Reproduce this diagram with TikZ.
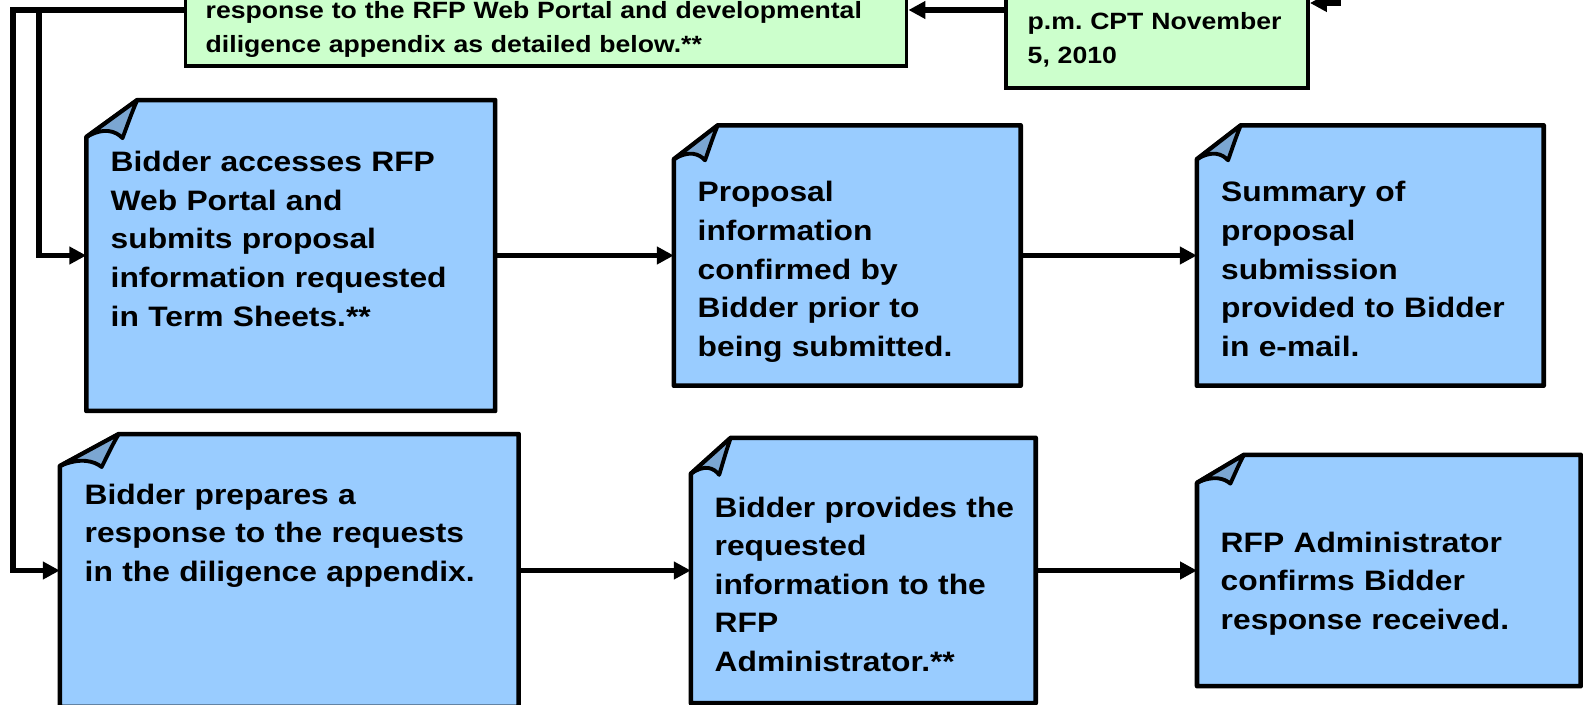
\documentclass[tikz,border=0pt]{standalone}
\usepackage{fontspec}
\setmainfont{Liberation Sans}[FakeStretch=1.13]
\usetikzlibrary{arrows.meta}
\frenchspacing

\definecolor{sheetblue}{RGB}{153,204,255}
\definecolor{flapblue}{RGB}{123,166,210}
\definecolor{notegreen}{RGB}{204,255,204}

\begin{document}
\begin{tikzpicture}[
        sheet/.style 2 args={rectangle, inner sep=0pt,
            append after command={\pgfextra{
                \filldraw[line width=1.3pt, line join=round, fill=sheetblue]
                    ([yshift=-#2cm]\tikzlastnode.north west) -- (\tikzlastnode.south west)
                    -- (\tikzlastnode.south east) -- (\tikzlastnode.north east)
                    -- ([xshift=#1cm]\tikzlastnode.north west) -- cycle;
                \filldraw[line width=1.1pt, line join=round, fill=flapblue, shift={(\tikzlastnode.north west)}]
                    (#1,0) -- (0,-#2) .. controls (0.35*#1,-0.72*#2) and (0.58*#1,-0.84*#2) .. (0.71*#1,-1.03*#2)
                    .. controls (0.8*#1,-0.7*#2) and (0.9*#1,-0.3*#2) .. (#1,0) -- cycle;
            }}},
        note/.style={rectangle, draw, fill=notegreen, line width=1.1pt, inner sep=0pt},
        sheettext/.style={anchor=base west, align=left, inner sep=0pt, text width=4.3cm,
            font=\bfseries\fontsize{8pt}{11pt}\selectfont},
        notetext/.style={anchor=base west, align=left, inner sep=0pt, text width=7cm,
            font=\bfseries\fontsize{6.7pt}{9.4pt}\selectfont},
        flow/.style={->, >={Triangle[length=1.7mm, width=1.7mm]}, line width=1.5pt}
    ]
        \useasboundingbox (0,0) rectangle (15.83,7.04);

        % Notes along the top
        \node[note, minimum width=7.21cm, minimum height=1.12cm] (portal) at (5.46,6.94) {};
        \node[notetext] (portal-txt) at (2.05,6.85)
            {response to the RFP Web Portal and developmental\\diligence appendix as detailed below.**};
        \node[note, minimum width=3.02cm, minimum height=1.56cm] (deadline) at (11.57,6.94) {};
        \node[notetext] (deadline-txt) at (10.27,6.74) {p.m. CPT November\\5, 2010};

        % Sheets, upper row
        \node[sheet={0.51}{0.37}, minimum width=4.075cm, minimum height=3.095cm] (access) at (2.9075,4.485) {};
        \node[sheettext] (access-txt) at (1.10,5.325)
            {Bidder accesses RFP\\Web Portal and\\submits proposal\\information requested\\in Term Sheets.**};
        \node[sheet={0.44}{0.34}, minimum width=3.455cm, minimum height=2.59cm] (confirm) at (8.4725,4.485) {};
        \node[sheettext] (confirm-txt) at (6.97,5.02)
            {Proposal\\information\\confirmed by\\Bidder prior to\\being submitted.};
        \node[sheet={0.44}{0.34}, minimum width=3.455cm, minimum height=2.59cm] (summary) at (13.7025,4.485) {};
        \node[sheettext] (summary-txt) at (12.205,5.02)
            {Summary of\\proposal\\submission\\provided to Bidder\\in e-mail.};

        % Sheets, lower row
        \node[sheet={0.59}{0.32}, minimum width=4.575cm, minimum height=2.715cm] (prepare) at (2.8925,1.335) {};
        \node[sheettext] (prepare-txt) at (0.84,2.00)
            {Bidder prepares a\\response to the requests\\in the diligence appendix.};
        \node[sheet={0.40}{0.36}, minimum width=3.435cm, minimum height=2.64cm] (provide) at (8.6325,1.335) {};
        \node[sheettext] (provide-txt) at (7.14,1.87)
            {Bidder provides the\\requested\\information to the\\RFP\\Administrator.**};
        \node[sheet={0.47}{0.28}, minimum width=3.823cm, minimum height=2.30cm] (receipt) at (13.8885,1.335) {};
        \node[sheettext] (receipt-txt) at (12.20,1.52)
            {RFP Administrator\\confirms Bidder\\response received.};

        % Connectors
        \coordinate (upstream) at (13.385,7.4);
        \coordinate (outer) at (0.13,6.94);
        \coordinate (inner) at (0.39,6.94);
        \draw[flow] (upstream) |- ([yshift=0.07cm]deadline.east);
        \draw[flow] (deadline) -- (portal);
        \draw[flow] (portal.west) -- (outer) |- (prepare.west);
        \draw[flow] (inner) |- (access.west);
        \draw[flow] (access) -- (confirm);
        \draw[flow] (confirm) -- (summary);
        \draw[flow] (prepare) -- (provide);
        \draw[flow] (provide) -- (receipt);
    \end{tikzpicture}
\end{document}
